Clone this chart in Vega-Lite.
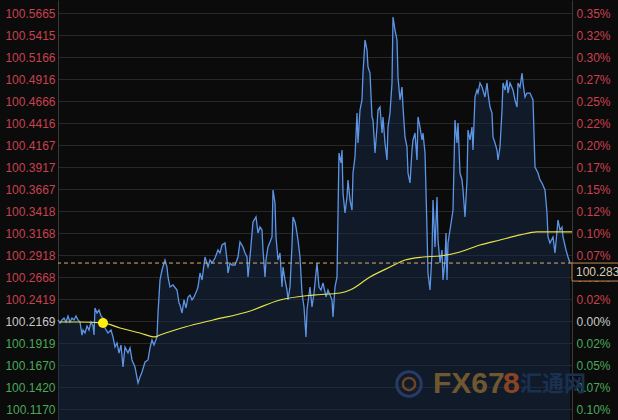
{
  "$schema": "https://vega.github.io/schema/vega-lite/v6.json",
  "width": 514,
  "height": 420,
  "autosize": {"type": "none"},
  "padding": {"left": 58, "right": 46, "top": 0, "bottom": 0},
  "background": "#0b0b0b",
  "config": {"view": {"stroke": null}, "font": "Liberation Sans"},
  "datasets": {
    "price": [
      {"t":0,"p":100.2184},{"t":2,"p":100.2150},{"t":4,"p":100.2184},{"t":6,"p":100.2206},{"t":8,"p":100.2161},{"t":10,"p":100.2229},{"t":12,"p":100.2161},{"t":14,"p":100.2206},{"t":16,"p":100.2184},{"t":18,"p":100.2229},{"t":20,"p":100.2184},{"t":22,"p":100.2161},{"t":24,"p":100.2013},{"t":25,"p":100.2070},{"t":27,"p":100.2036},{"t":29,"p":100.2116},{"t":31,"p":100.2070},{"t":33,"p":100.2161},{"t":35,"p":100.2116},{"t":36,"p":100.2013},{"t":37,"p":100.2320},{"t":39,"p":100.2263},{"t":41,"p":100.2297},{"t":43,"p":100.2229},{"t":45,"p":100.2206},{"t":47,"p":100.2093},{"t":50,"p":100.2036},{"t":53,"p":100.2070},{"t":55,"p":100.1991},{"t":57,"p":100.1877},{"t":59,"p":100.1923},{"t":61,"p":100.1809},{"t":63,"p":100.1900},{"t":65,"p":100.1650},{"t":67,"p":100.1877},{"t":70,"p":100.1809},{"t":72,"p":100.1866},{"t":74,"p":100.1730},{"t":77,"p":100.1650},{"t":80,"p":100.1469},{"t":82,"p":100.1537},{"t":84,"p":100.1593},{"t":87,"p":100.1707},{"t":90,"p":100.1730},{"t":92,"p":100.1866},{"t":94,"p":100.1957},{"t":96,"p":100.1900},{"t":99,"p":100.1991},{"t":100,"p":100.2263},{"t":102,"p":100.2638},{"t":104,"p":100.2751},{"t":107,"p":100.2865},{"t":109,"p":100.2785},{"t":110,"p":100.2672},{"t":112,"p":100.2558},{"t":115,"p":100.2581},{"t":119,"p":100.2524},{"t":121,"p":100.2377},{"t":122,"p":100.2354},{"t":124,"p":100.2263},{"t":126,"p":100.2411},{"t":128,"p":100.2320},{"t":130,"p":100.2445},{"t":132,"p":100.2467},{"t":134,"p":100.2411},{"t":136,"p":100.2445},{"t":139,"p":100.2524},{"t":140,"p":100.2558},{"t":142,"p":100.2717},{"t":144,"p":100.2638},{"t":147,"p":100.2899},{"t":150,"p":100.2785},{"t":152,"p":100.2865},{"t":154,"p":100.2831},{"t":157,"p":100.2887},{"t":160,"p":100.2978},{"t":162,"p":100.2944},{"t":164,"p":100.3035},{"t":167,"p":100.3058},{"t":169,"p":100.2865},{"t":170,"p":100.2717},{"t":172,"p":100.2831},{"t":174,"p":100.2808},{"t":177,"p":100.2808},{"t":180,"p":100.2899},{"t":182,"p":100.3069},{"t":185,"p":100.3012},{"t":187,"p":100.2944},{"t":189,"p":100.2899},{"t":190,"p":100.2672},{"t":192,"p":100.2899},{"t":195,"p":100.3296},{"t":198,"p":100.3353},{"t":200,"p":100.3171},{"t":202,"p":100.3239},{"t":204,"p":100.3205},{"t":205,"p":100.2978},{"t":207,"p":100.2672},{"t":208,"p":100.2865},{"t":210,"p":100.3012},{"t":212,"p":100.3069},{"t":214,"p":100.3126},{"t":215,"p":100.3659},{"t":217,"p":100.3512},{"t":218,"p":100.3126},{"t":220,"p":100.2865},{"t":222,"p":100.2944},{"t":224,"p":100.2558},{"t":225,"p":100.2785},{"t":227,"p":100.2638},{"t":229,"p":100.2524},{"t":230,"p":100.2411},{"t":232,"p":100.2558},{"t":234,"p":100.3035},{"t":235,"p":100.3353},{"t":237,"p":100.3296},{"t":238,"p":100.3239},{"t":240,"p":100.3092},{"t":242,"p":100.2899},{"t":244,"p":100.2490},{"t":246,"p":100.2331},{"t":248,"p":100.1991},{"t":249,"p":100.2297},{"t":252,"p":100.2558},{"t":254,"p":100.2331},{"t":256,"p":100.2490},{"t":259,"p":100.2831},{"t":261,"p":100.2558},{"t":263,"p":100.2524},{"t":265,"p":100.2604},{"t":268,"p":100.2445},{"t":270,"p":100.2524},{"t":272,"p":100.2467},{"t":274,"p":100.2411},{"t":275,"p":100.2218},{"t":277,"p":100.2558},{"t":279,"p":100.2672},{"t":281,"p":100.4079},{"t":283,"p":100.3966},{"t":284,"p":100.4113},{"t":285,"p":100.3625},{"t":287,"p":100.3398},{"t":289,"p":100.3580},{"t":290,"p":100.3773},{"t":292,"p":100.3546},{"t":294,"p":100.3432},{"t":295,"p":100.3852},{"t":297,"p":100.4034},{"t":299,"p":100.4533},{"t":300,"p":100.4193},{"t":302,"p":100.4567},{"t":304,"p":100.4681},{"t":305,"p":100.4987},{"t":307,"p":100.5362},{"t":309,"p":100.5248},{"t":310,"p":100.5056},{"t":312,"p":100.4987},{"t":314,"p":100.4488},{"t":315,"p":100.4454},{"t":317,"p":100.4079},{"t":319,"p":100.4374},{"t":320,"p":100.4567},{"t":322,"p":100.4601},{"t":324,"p":100.4306},{"t":325,"p":100.4488},{"t":327,"p":100.4193},{"t":329,"p":100.4000},{"t":330,"p":100.4374},{"t":332,"p":100.4533},{"t":334,"p":100.4874},{"t":335,"p":100.5623},{"t":337,"p":100.5475},{"t":339,"p":100.5362},{"t":340,"p":100.4942},{"t":342,"p":100.4681},{"t":344,"p":100.4828},{"t":345,"p":100.4601},{"t":347,"p":100.4261},{"t":349,"p":100.4147},{"t":350,"p":100.3852},{"t":352,"p":100.3739},{"t":354,"p":100.4113},{"t":355,"p":100.4227},{"t":357,"p":100.4306},{"t":359,"p":100.4000},{"t":360,"p":100.4488},{"t":362,"p":100.4374},{"t":364,"p":100.4227},{"t":365,"p":100.4306},{"t":367,"p":100.4079},{"t":369,"p":100.3205},{"t":370,"p":100.2717},{"t":372,"p":100.2524},{"t":374,"p":100.2944},{"t":375,"p":100.3546},{"t":377,"p":100.3012},{"t":379,"p":100.3580},{"t":380,"p":100.3092},{"t":382,"p":100.2831},{"t":384,"p":100.2978},{"t":385,"p":100.2638},{"t":387,"p":100.2865},{"t":388,"p":100.3171},{"t":389,"p":100.2638},{"t":390,"p":100.3058},{"t":392,"p":100.3205},{"t":395,"p":100.3432},{"t":397,"p":100.4454},{"t":399,"p":100.4193},{"t":400,"p":100.4420},{"t":402,"p":100.3852},{"t":404,"p":100.3773},{"t":405,"p":100.3659},{"t":407,"p":100.3353},{"t":409,"p":100.3773},{"t":410,"p":100.4340},{"t":412,"p":100.4227},{"t":414,"p":100.4374},{"t":415,"p":100.4113},{"t":417,"p":100.4715},{"t":419,"p":100.4794},{"t":420,"p":100.4760},{"t":422,"p":100.4874},{"t":424,"p":100.4828},{"t":427,"p":100.4715},{"t":429,"p":100.4874},{"t":430,"p":100.4760},{"t":432,"p":100.4601},{"t":434,"p":100.4533},{"t":435,"p":100.4261},{"t":437,"p":100.4193},{"t":439,"p":100.4113},{"t":440,"p":100.4000},{"t":442,"p":100.4147},{"t":444,"p":100.4567},{"t":445,"p":100.4874},{"t":447,"p":100.4794},{"t":449,"p":100.4908},{"t":450,"p":100.4760},{"t":452,"p":100.4874},{"t":455,"p":100.4794},{"t":457,"p":100.4681},{"t":459,"p":100.4601},{"t":460,"p":100.4874},{"t":462,"p":100.4828},{"t":464,"p":100.4987},{"t":465,"p":100.4874},{"t":467,"p":100.4715},{"t":469,"p":100.4760},{"t":472,"p":100.4760},{"t":475,"p":100.4681},{"t":477,"p":100.3920},{"t":480,"p":100.3852},{"t":482,"p":100.3773},{"t":484,"p":100.3739},{"t":487,"p":100.3659},{"t":489,"p":100.3398},{"t":490,"p":100.3126},{"t":492,"p":100.3058},{"t":495,"p":100.3126},{"t":497,"p":100.2944},{"t":500,"p":100.3319},{"t":502,"p":100.3205},{"t":504,"p":100.3239},{"t":505,"p":100.3126},{"t":508,"p":100.2978},{"t":510,"p":100.2899},{"t":512,"p":100.2831}
    ],
    "avg": [
      {"t":2,"p":100.2161},{"t":20,"p":100.2161},{"t":45,"p":100.2150},{"t":62,"p":100.2093},{"t":82,"p":100.2036},{"t":97,"p":100.1991},{"t":102,"p":100.2013},{"t":117,"p":100.2070},{"t":127,"p":100.2104},{"t":155,"p":100.2184},{"t":189,"p":100.2274},{"t":222,"p":100.2411},{"t":255,"p":100.2467},{"t":282,"p":100.2490},{"t":292,"p":100.2524},{"t":312,"p":100.2672},{"t":332,"p":100.2785},{"t":347,"p":100.2865},{"t":365,"p":100.2899},{"t":382,"p":100.2910},{"t":402,"p":100.2956},{"t":422,"p":100.3035},{"t":442,"p":100.3092},{"t":462,"p":100.3149},{"t":479,"p":100.3183},{"t":514,"p":100.3183}
    ],
    "dot": [{"t":45,"p":100.2150}],
    "last": [{"t":514,"p":100.283,"label":"100.283"}],
    "mark": [
      {"t":375,"p":100.1457,"text":"FX67","color":"#6f5830"},
      {"t":445,"p":100.1457,"text":"8","color":"#8a4424"},
      {"t":462,"p":100.1457,"text":"汇通网","color":"#1a3050"}
    ],
    "logo": [{"t":351,"p":100.1457}]
  },
  "layer": [
    {
      "data": {"name": "price"},
      "mark": {"type": "area", "line": false, "color": "#172945", "opacity": 0.5},
      "encoding": {
        "x": {"field": "t", "type": "quantitative", "scale": {"domain": [0, 514], "nice": false, "zero": false},
              "axis": {"values": [64.25, 128.5, 192.75, 257, 321.25, 385.5, 449.75], "labels": false, "ticks": false, "domain": false, "title": null, "grid": true, "gridColor": "#1b1b1b"}},
        "y": {"field": "p", "type": "quantitative", "scale": {"domain": [100.10485, 100.5816], "nice": false, "zero": false},
              "axis": {"orient": "left", "title": null, "values": [100.5665,100.5415,100.5166,100.4916,100.4666,100.4416,100.4167,100.3917,100.3667,100.3418,100.3168,100.2918,100.2668,100.2419,100.2169,100.1919,100.1670,100.1420,100.1170],
                       "format": ".4f", "grid": true, "gridColor": "#282828", "ticks": false, "tickSize": 0, "labelPadding": 3, "domain": true, "domainColor": "#3a3a3a",
                       "labelFontSize": 12, "labelFont": "Liberation Sans",
                       "labelColor": {"condition": [{"test": "datum.value > 100.22", "value": "#c9414f"}, {"test": "datum.value < 100.21", "value": "#4aa85a"}], "value": "#c8c8c8"}}}
      }
    },
    {
      "data": {"name": "mark"},
      "mark": {"type": "text", "align": "left", "baseline": "middle", "font": "Liberation Sans", "fontWeight": "bold", "fontSize": 30},
      "transform": [{"filter": "datum.text != '汇通网'"}],
      "encoding": {
        "x": {"field": "t", "type": "quantitative", "axis": null},
        "y": {"field": "p", "type": "quantitative", "axis": null},
        "text": {"field": "text"},
        "color": {"field": "color", "type": "nominal", "scale": null}
      }
    },
    {
      "data": {"name": "mark"},
      "mark": {"type": "text", "align": "left", "baseline": "middle", "font": "Noto Sans CJK SC", "fontWeight": "bold", "fontSize": 22},
      "transform": [{"filter": "datum.text == '汇通网'"}],
      "encoding": {
        "x": {"field": "t", "type": "quantitative", "axis": null},
        "y": {"field": "p", "type": "quantitative", "axis": null},
        "text": {"field": "text"},
        "color": {"field": "color", "type": "nominal", "scale": null}
      }
    },
    {
      "data": {"name": "logo"},
      "mark": {"type": "point", "shape": "circle", "size": 600, "filled": false, "stroke": "#283a66", "strokeWidth": 3, "opacity": 1},
      "encoding": {
        "x": {"field": "t", "type": "quantitative", "axis": null},
        "y": {"field": "p", "type": "quantitative", "axis": null}
      }
    },
    {
      "data": {"name": "logo"},
      "mark": {"type": "point", "shape": "circle", "size": 150, "filled": false, "stroke": "#6a4426", "strokeWidth": 2.5, "opacity": 1},
      "encoding": {
        "x": {"field": "t", "type": "quantitative", "axis": null},
        "y": {"field": "p", "type": "quantitative", "axis": null}
      }
    },
    {
      "data": {"name": "price"},
      "mark": {"type": "line", "color": "#5d95e6", "strokeWidth": 1.3},
      "encoding": {
        "x": {"field": "t", "type": "quantitative", "axis": null},
        "y": {"field": "p", "type": "quantitative",
              "axis": {"orient": "right", "title": null, "values": [100.5665,100.5415,100.5166,100.4916,100.4666,100.4416,100.4167,100.3917,100.3667,100.3418,100.3168,100.2918,100.2668,100.2419,100.2169,100.1919,100.1670,100.1420,100.1170],
                       "labelExpr": "format(abs(datum.value/100.2169-1)*100, '.2f') + '%'",
                       "grid": false, "ticks": false, "tickSize": 0, "labelPadding": 4, "domain": true, "domainColor": "#3a3a3a",
                       "labelFontSize": 12, "labelFont": "Liberation Sans",
                       "labelColor": {"condition": [{"test": "datum.value > 100.22", "value": "#c9414f"}, {"test": "datum.value < 100.21", "value": "#4aa85a"}], "value": "#c8c8c8"}}}
      }
    },
    {
      "data": {"name": "avg"},
      "mark": {"type": "line", "color": "#e6e44a", "strokeWidth": 1.2, "interpolate": "monotone"},
      "encoding": {
        "x": {"field": "t", "type": "quantitative", "axis": null},
        "y": {"field": "p", "type": "quantitative", "axis": null}
      }
    },
    {
      "data": {"name": "last"},
      "mark": {"type": "rule", "color": "#dcae6e", "strokeWidth": 1, "strokeDash": [4, 3]},
      "encoding": {
        "y": {"field": "p", "type": "quantitative", "axis": null}
      }
    },
    {
      "data": {"name": "dot"},
      "mark": {"type": "point", "shape": "circle", "filled": true, "size": 100, "color": "#ffee10", "opacity": 1},
      "encoding": {
        "x": {"field": "t", "type": "quantitative", "axis": null},
        "y": {"field": "p", "type": "quantitative", "axis": null}
      }
    },
    {
      "data": {"name": "last"},
      "mark": {"type": "rect", "fill": "#0b0b0b", "stroke": "#c08a50", "strokeWidth": 1, "x2Offset": 50, "y2Offset": 18, "clip": false},
      "encoding": {
        "x": {"field": "t", "type": "quantitative", "axis": null},
        "x2": {"field": "t"},
        "y": {"field": "p", "type": "quantitative", "axis": null},
        "y2": {"field": "p"}
      }
    },
    {
      "data": {"name": "last"},
      "mark": {"type": "text", "align": "left", "baseline": "middle", "dx": 4, "dy": 9, "fontSize": 12, "font": "Liberation Sans", "color": "#d8cbb8"},
      "encoding": {
        "x": {"field": "t", "type": "quantitative", "axis": null},
        "y": {"field": "p", "type": "quantitative", "axis": null},
        "text": {"field": "label"}
      }
    }
  ],
  "resolve": {"axis": {"y": "independent"}}
}
